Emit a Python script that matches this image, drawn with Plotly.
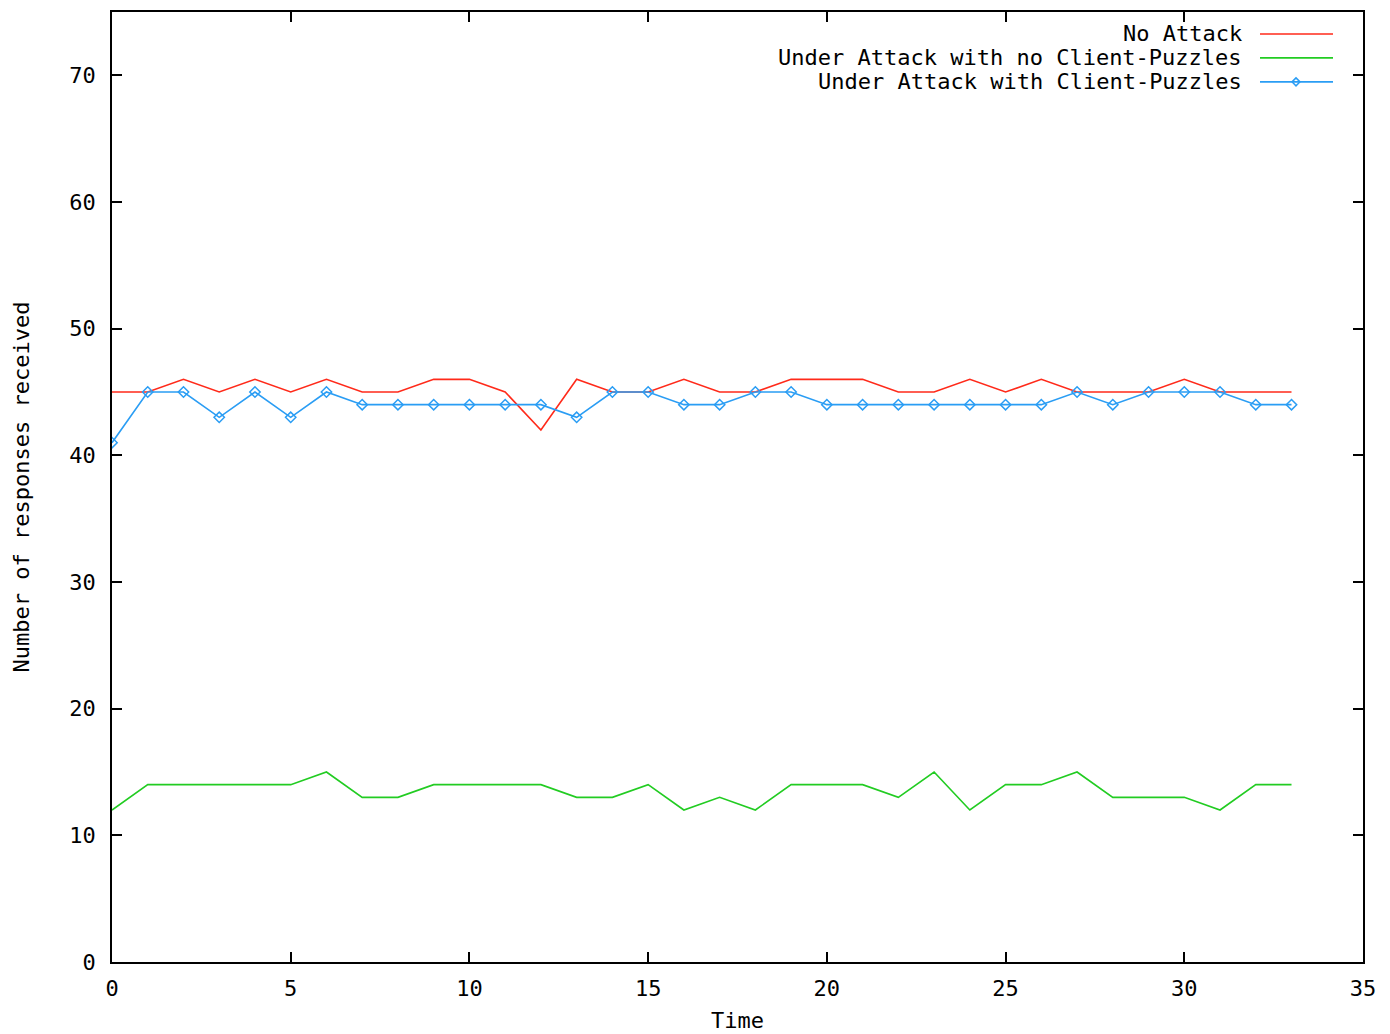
import plotly.graph_objects as go

time = list(range(34))
no_attack = [45, 45, 46, 45, 46, 45, 46, 45, 45, 46, 46, 45, 42, 46, 45, 45, 46, 45, 45, 46,
             46, 46, 45, 45, 46, 45, 46, 45, 45, 45, 46, 45, 45, 45]
attack_no_puzzles = [12, 14, 14, 14, 14, 14, 15, 13, 13, 14, 14, 14, 14, 13, 13, 14, 12, 13, 12, 14,
                     14, 14, 13, 15, 12, 14, 14, 15, 13, 13, 13, 12, 14, 14]
attack_puzzles = [41, 45, 45, 43, 45, 43, 45, 44, 44, 44, 44, 44, 44, 43, 45, 45, 44, 44, 45, 45,
                  44, 44, 44, 44, 44, 44, 44, 45, 44, 45, 45, 45, 44, 44]

names = ["No Attack", "Under Attack with no Client-Puzzles", "Under Attack with Client-Puzzles"]
colors = ["#ff2a1a", "#22cc22", "#2a9df4"]
x_ticks = [0, 5, 10, 15, 20, 25, 30, 35]
y_ticks = [0, 10, 20, 30, 40, 50, 60, 70]

FONT = "DejaVu Sans Mono"
FS = 22

fig = go.Figure()
fig.add_trace(go.Scatter(x=time, y=no_attack, mode="lines", name=names[0],
                         line=dict(color=colors[0], width=1.6)))
fig.add_trace(go.Scatter(x=time, y=attack_no_puzzles, mode="lines", name=names[1],
                         line=dict(color=colors[1], width=1.6)))
fig.add_trace(go.Scatter(x=time, y=attack_puzzles, mode="lines+markers", name=names[2],
                         line=dict(color=colors[2], width=1.6),
                         marker=dict(symbol="diamond-open", size=8, color=colors[2],
                                     line=dict(width=1.5, color=colors[2]))))

# page coordinates (figure placed at 8px body margin)
L, R, T, B = 112, 1363, 10, 962
W, H = float(R - L), float(B - T)
rows_px = [32, 56, 80]
for i, (nm, c) in enumerate(zip(names, colors)):
    yp = (B - rows_px[i]) / H
    fig.add_annotation(x=(1244 - L) / W, y=yp, xref="paper", yref="paper",
                       text=nm, showarrow=False, xanchor="right", yanchor="middle",
                       font=dict(family=FONT, size=FS, color="black"))
    fig.add_shape(type="line", xref="paper", yref="paper",
                  x0=(1260 - L) / W, x1=(1333 - L) / W, y0=yp, y1=yp,
                  line=dict(color=c, width=1.6))
cx, cy = (1296 - L) / W, (B - 80) / H
dx, dy = 4 / W, 4 / H
fig.add_shape(type="path", xref="paper", yref="paper",
              path=f"M {cx-dx} {cy} L {cx} {cy+dy} L {cx+dx} {cy} L {cx} {cy-dy} Z",
              line=dict(color=colors[2], width=1.5))

axis_common = dict(showgrid=False, zeroline=False, showline=True, linecolor="black",
                   linewidth=1.5, mirror="ticks", ticks="inside", ticklen=10,
                   tickcolor="black", tickwidth=1.5,
                   tickfont=dict(family=FONT, size=FS, color="black"))

fig.update_layout(
    width=1382, height=1026,
    margin=dict(l=L - 8, r=1390 - R, t=T - 8, b=1034 - B),
    paper_bgcolor="white", plot_bgcolor="white",
    showlegend=False,
    xaxis=dict(range=[0, 35], tickvals=x_ticks, ticktext=[str(v) for v in x_ticks],
               ticklabelstandoff=6,
               title=dict(text="Time", font=dict(family=FONT, size=FS, color="black"), standoff=12),
               **axis_common),
    yaxis=dict(range=[0, 75], tickvals=y_ticks, ticktext=[str(v) for v in y_ticks],
               ticklabelstandoff=10,
               title=dict(text="Number of responses received",
                          font=dict(family=FONT, size=FS, color="black"), standoff=34),
               **axis_common),
)

fig.write_html("out.html")
